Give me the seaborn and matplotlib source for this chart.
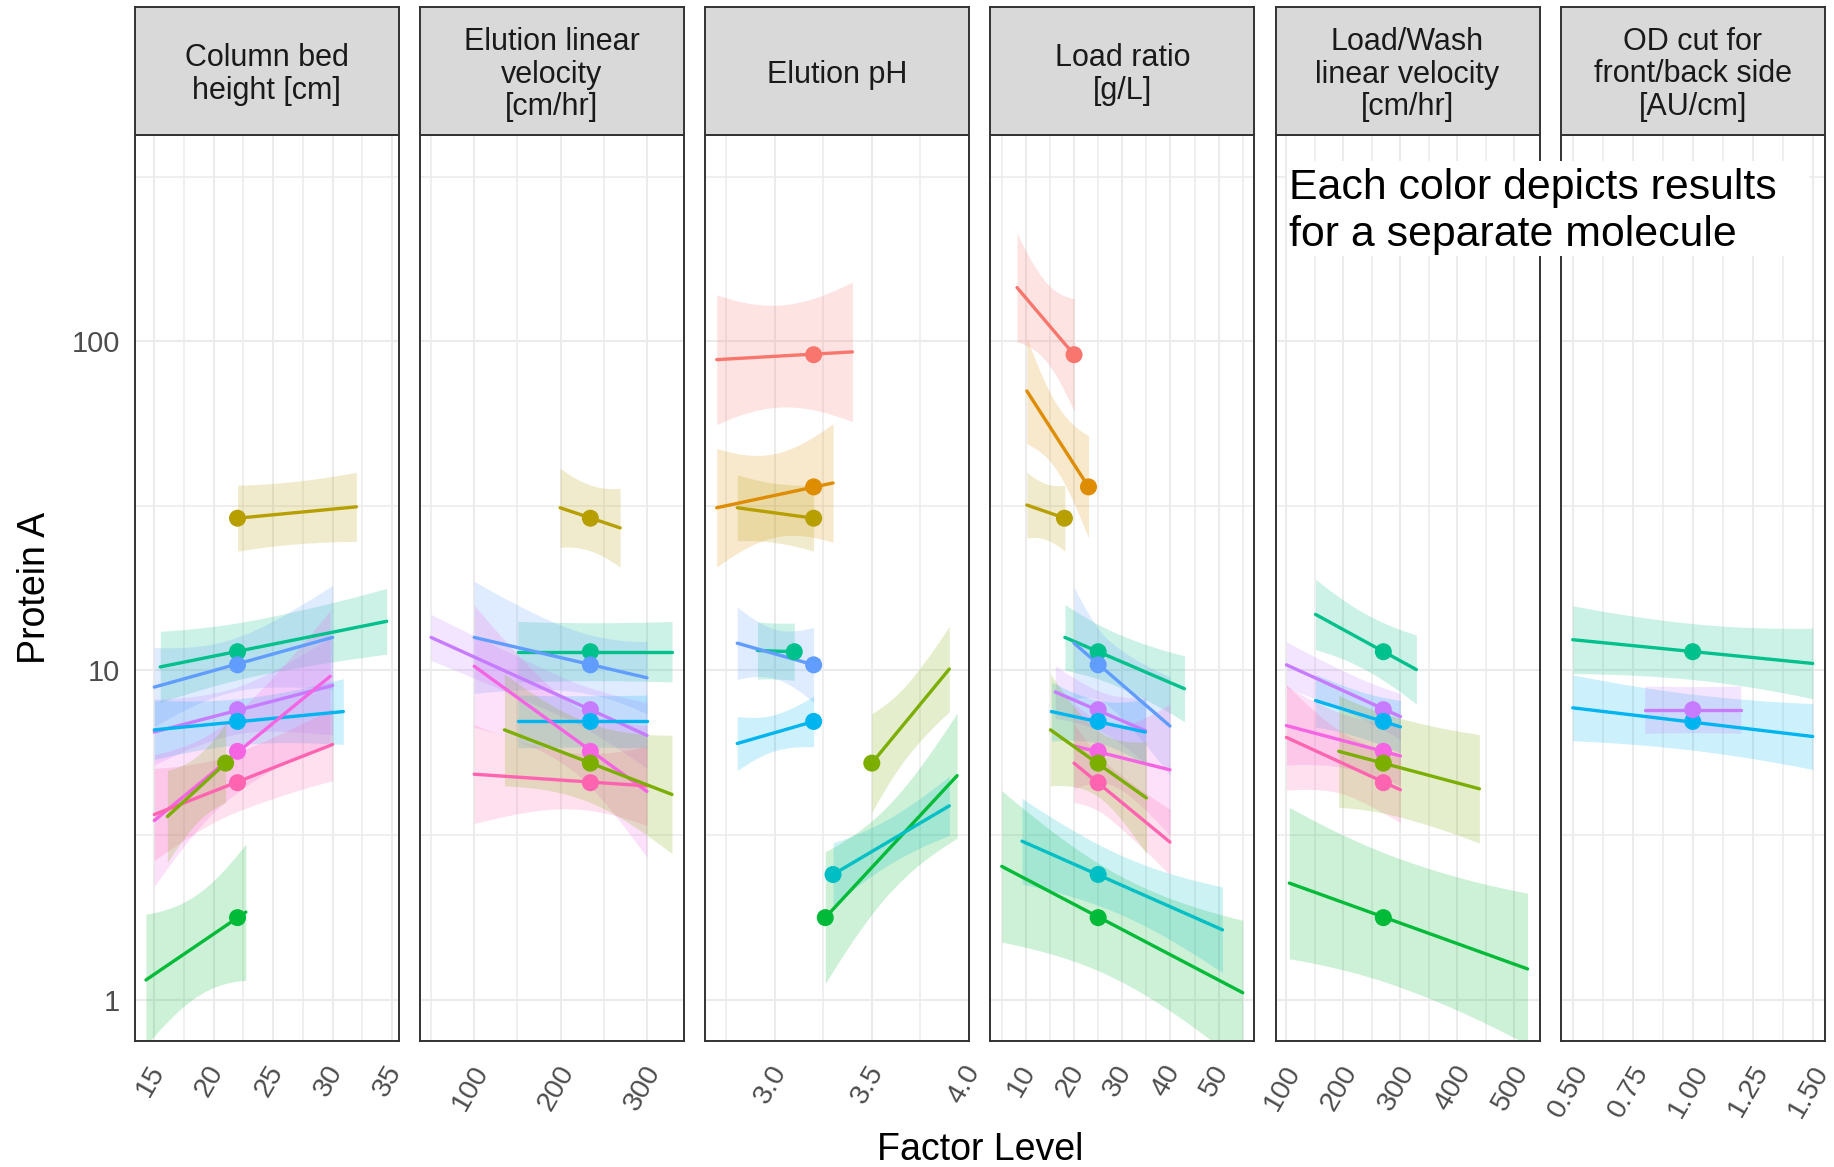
import numpy as np
import pandas as pd
import matplotlib
matplotlib.use("Agg")
import matplotlib.pyplot as plt
import matplotlib.transforms as mtransforms
from matplotlib.patches import Rectangle
from matplotlib.ticker import FixedLocator, FixedFormatter, NullFormatter
import seaborn as sns

sns.set_style("white")
plt.rcParams["font.family"] = ["Liberation Sans", "DejaVu Sans"]

# ---------------------------------------------------------------- data
facet_titles = [
    "Column bed\nheight [cm]",
    "Elution linear\nvelocity\n[cm/hr]",
    "Elution pH",
    "Load ratio\n[g/L]",
    "Load/Wash\nlinear velocity\n[cm/hr]",
    "OD cut for\nfront/back side\n[AU/cm]",
]

molecules = ["mol%02d" % i for i in range(1, 13)]
molecule_colors = ["#F8766D", "#DE8C00", "#B79F00", "#7CAE00", "#00BA38", "#00C08B",
                   "#00BFC4", "#00B4F0", "#619CFF", "#C77CFF", "#F564E3", "#FF64B0"]

# Protein A at the centre-point condition of each molecule
center_protein_a = [91.0, 36.1, 29.0, 5.23, 1.775, 11.4, 2.40, 7.0, 10.4, 7.6, 5.68, 4.56]

# fitted trends: (molecule, x start, x end, y at start, y at end,
#                 x of narrowest band, band half-width start / narrowest / end in log10 units)
bed_height_fits = [
    (3, 22.0, 32.0, 29.0, 31.4, 26.0, 0.100, 0.095, 0.105),
    (6, 15.5, 34.55, 10.25, 14.1, 24.0, 0.108, 0.085, 0.100),
    (9, 15.0, 30.0, 8.9, 12.6, 21.0, 0.120, 0.080, 0.158),
    (10, 15.0, 30.0, 6.5, 9.0, 21.0, 0.100, 0.070, 0.150),
    (8, 15.0, 30.9, 6.6, 7.5, 22.0, 0.090, 0.070, 0.100),
    (11, 15.0, 29.8, 3.5, 9.6, 21.0, 0.200, 0.120, 0.200),
    (12, 15.0, 30.0, 3.65, 5.96, 22.0, 0.140, 0.090, 0.110),
    (4, 16.1, 21.0, 3.6, 5.23, 19.0, 0.140, 0.100, 0.120),
    (5, 14.3, 22.7, 1.148, 1.845, 18.5, 0.200, 0.155, 0.207),
]
elution_velocity_fits = [
    (3, 199.5, 269.0, 31.2, 27.1, 234.5, 0.120, 0.100, 0.120),
    (6, 150.5, 329.0, 11.4, 11.4, 240.0, 0.092, 0.088, 0.092),
    (9, 100.0, 300.0, 12.6, 9.5, 240.0, 0.170, 0.090, 0.110),
    (10, 50.0, 300.0, 12.6, 6.35, 200.0, 0.070, 0.060, 0.100),
    (8, 150.5, 300.0, 7.0, 7.0, 225.0, 0.080, 0.078, 0.080),
    (11, 100.0, 300.0, 10.3, 4.29, 210.0, 0.185, 0.100, 0.200),
    (12, 100.0, 300.0, 4.84, 4.46, 220.0, 0.150, 0.085, 0.120),
    (4, 135.0, 329.0, 6.6, 4.2, 230.0, 0.170, 0.120, 0.180),
]
elution_ph_fits = [
    (1, 2.70, 3.40, 87.9, 92.8, 3.02, 0.197, 0.155, 0.212),
    (2, 2.70, 3.30, 31.2, 37.1, 3.00, 0.180, 0.127, 0.180),
    (3, 2.806, 3.20, 31.2, 29.0, 3.00, 0.100, 0.090, 0.100),
    (6, 2.91, 3.10, 11.5, 11.4, 3.00, 0.087, 0.085, 0.087),
    (9, 2.806, 3.20, 12.1, 10.4, 3.00, 0.110, 0.075, 0.114),
    (8, 2.806, 3.20, 6.0, 7.0, 3.00, 0.082, 0.055, 0.077),
    (4, 3.50, 3.90, 5.23, 10.1, 3.70, 0.150, 0.110, 0.130),
    (5, 3.26, 3.94, 1.775, 4.79, 3.60, 0.200, 0.135, 0.190),
    (7, 3.30, 3.90, 2.40, 3.88, 3.60, 0.096, 0.070, 0.090),
]
load_ratio_fits = [
    (1, 8.17, 20.0, 145.5, 91.0, 14.0, 0.165, 0.120, 0.170),
    (2, 10.2, 23.0, 70.6, 36.1, 16.5, 0.160, 0.100, 0.155),
    (3, 10.2, 18.1, 31.8, 29.0, 14.0, 0.100, 0.085, 0.100),
    (6, 18.1, 42.9, 12.6, 8.8, 29.0, 0.100, 0.080, 0.100),
    (9, 20.0, 39.9, 12.1, 6.78, 27.0, 0.170, 0.100, 0.150),
    (10, 16.1, 34.8, 8.6, 6.56, 25.0, 0.080, 0.060, 0.100),
    (8, 15.3, 34.8, 7.5, 6.5, 25.0, 0.090, 0.065, 0.100),
    (11, 20.0, 39.9, 5.9, 4.99, 27.0, 0.130, 0.090, 0.200),
    (12, 20.0, 39.9, 5.23, 3.01, 27.0, 0.120, 0.080, 0.100),
    (4, 15.1, 35.0, 6.6, 4.1, 25.0, 0.170, 0.100, 0.170),
    (5, 5.0, 55.0, 2.54, 1.05, 30.0, 0.230, 0.160, 0.220),
    (7, 9.2, 50.8, 3.03, 1.63, 30.0, 0.130, 0.090, 0.130),
]
load_wash_fits = [
    (6, 151.0, 328.0, 14.8, 10.06, 240.0, 0.107, 0.085, 0.105),
    (10, 100.0, 300.0, 10.4, 7.24, 220.0, 0.070, 0.060, 0.070),
    (8, 151.0, 300.0, 8.1, 6.74, 230.0, 0.080, 0.070, 0.080),
    (11, 100.0, 300.0, 6.8, 5.5, 220.0, 0.120, 0.080, 0.090),
    (12, 100.0, 300.0, 6.26, 4.34, 220.0, 0.160, 0.090, 0.100),
    (4, 191.7, 438.5, 5.68, 4.37, 300.0, 0.170, 0.150, 0.165),
    (5, 105.0, 523.0, 2.26, 1.24, 300.0, 0.230, 0.195, 0.230),
]
od_cut_fits = [
    (6, 0.50, 1.50, 12.4, 10.5, 1.0, 0.103, 0.085, 0.107),
    (8, 0.50, 1.50, 7.7, 6.3, 1.0, 0.100, 0.085, 0.100),
    (10, 0.80, 1.20, 7.6, 7.6, 1.0, 0.072, 0.070, 0.072),
]

# centre-point runs: (molecule, factor level)
bed_height_points = [(3, 22), (6, 22), (9, 22), (10, 22), (8, 22), (11, 22), (12, 22), (4, 21), (5, 22)]
elution_velocity_points = [(3, 234.5), (6, 234.5), (9, 234.5), (10, 234.5), (8, 234.5),
                           (11, 234.5), (12, 234.5), (4, 234.5)]
elution_ph_points = [(1, 3.2), (2, 3.2), (3, 3.2), (6, 3.1), (9, 3.2), (8, 3.2), (4, 3.5), (5, 3.26), (7, 3.3)]
load_ratio_points = [(1, 20), (2, 23), (3, 18), (6, 25), (9, 25), (10, 25), (8, 25), (11, 25),
                     (12, 25), (4, 25), (5, 25), (7, 25)]
load_wash_points = [(6, 270), (10, 270), (8, 270), (11, 270), (12, 270), (4, 270), (5, 270)]
od_cut_points = [(6, 1.0), (8, 1.0), (10, 1.0)]

x_ticks = [[15, 20, 25, 30, 35], [100, 200, 300], [3.0, 3.5, 4.0], [10, 20, 30, 40, 50],
           [100, 200, 300, 400, 500], [0.50, 0.75, 1.00, 1.25, 1.50]]
x_tick_labels = [["15", "20", "25", "30", "35"], ["100", "200", "300"], ["3.0", "3.5", "4.0"],
                 ["10", "20", "30", "40", "50"], ["100", "200", "300", "400", "500"],
                 ["0.50", "0.75", "1.00", "1.25", "1.50"]]
x_minor = [[17.5, 22.5, 27.5, 32.5], [50, 150, 250], [2.75, 3.25, 3.75], [5, 15, 25, 35, 45, 55],
           [150, 250, 350, 450], [0.625, 0.875, 1.125, 1.375]]
x_limits = [(13.35, 35.56), (37.1, 342.8), (2.64, 4.002), (2.62, 57.4), (80.8, 544.0), (0.45, 1.55)]
y_limits = (0.749, 423.0)
y_ticks = [1, 10, 100]
y_minor = [10 ** 0.5, 10 ** 1.5, 10 ** 2.5]

fits_by_facet = [bed_height_fits, elution_velocity_fits, elution_ph_fits,
                 load_ratio_fits, load_wash_fits, od_cut_fits]
points_by_facet = [bed_height_points, elution_velocity_points, elution_ph_points,
                   load_ratio_points, load_wash_points, od_cut_points]

palette = dict(zip(molecules, molecule_colors))

line_rows, point_rows = [], []
for f, fits in enumerate(fits_by_facet):
    for k, (m, x0, x1, y0, y1, *_rest) in enumerate(fits):
        line_rows.append({"facet": f, "fit": k, "molecule": molecules[m - 1], "factor": x0, "protein_a": y0})
        line_rows.append({"facet": f, "fit": k, "molecule": molecules[m - 1], "factor": x1, "protein_a": y1})
for f, pts in enumerate(points_by_facet):
    for m, x in pts:
        point_rows.append({"facet": f, "molecule": molecules[m - 1], "factor": x,
                           "protein_a": center_protein_a[m - 1]})
lines_df = pd.DataFrame(line_rows)
points_df = pd.DataFrame(point_rows)


def confidence_band(x0, x1, y0, y1, xm, w0, wm, w1, n=80):
    """Band around a straight (log-scale) trend, narrowest at xm."""
    xs = np.linspace(x0, x1, n)
    ly = np.log10(y0) + (np.log10(y1) - np.log10(y0)) * (xs - x0) / (x1 - x0)
    left = xs < xm
    t = np.where(left, (xs - xm) / (x0 - xm), (xs - xm) / (x1 - xm))
    w_end = np.where(left, w0, w1)
    hw = np.sqrt(wm ** 2 + (w_end ** 2 - wm ** 2) * t ** 2)
    return xs, 10 ** (ly - hw), 10 ** (ly + hw)


# ---------------------------------------------------------------- layout
W, H = 1834, 1167
fig = plt.figure(figsize=(W / 100, H / 100), dpi=100)
panel_left = [134.7 + i * 285.2 for i in range(6)]
panel_w = 264.0
plot_top, plot_bot, strip_top = 135.0, 1041.0, 7.0
border = "#333333"
grid_c = "#EBEBEB"
label_shift = mtransforms.ScaledTranslation(-4 / 100, 0, fig.dpi_scale_trans)

for f in range(6):
    l = panel_left[f] / W
    ax = fig.add_axes([l, 1 - plot_bot / H, panel_w / W, (plot_bot - plot_top) / H])
    sax = fig.add_axes([l, 1 - plot_top / H, panel_w / W, (plot_top - strip_top) / H])

    ax.set_yscale("log")
    ax.set_axisbelow(True)

    for (m, x0, x1, y0, y1, xm, w0, wm, w1) in fits_by_facet[f]:
        xs, lo, hi = confidence_band(x0, x1, y0, y1, xm, w0, wm, w1)
        ax.fill_between(xs, lo, hi, color=molecule_colors[m - 1], alpha=0.2, lw=0, zorder=1)

    sns.lineplot(data=lines_df[lines_df.facet == f], x="factor", y="protein_a", hue="molecule",
                 units="fit", estimator=None, sort=False, palette=palette, legend=False,
                 lw=2.4, ax=ax, zorder=3)
    sns.scatterplot(data=points_df[points_df.facet == f], x="factor", y="protein_a", hue="molecule",
                    palette=palette, s=150, linewidth=0, legend=False, ax=ax, zorder=4)

    ax.set_xlim(*x_limits[f])
    ax.set_ylim(*y_limits)
    ax.set_xlabel("")
    ax.set_ylabel("")

    ax.xaxis.set_major_locator(FixedLocator(x_ticks[f]))
    ax.xaxis.set_major_formatter(FixedFormatter(x_tick_labels[f]))
    ax.xaxis.set_minor_locator(FixedLocator(x_minor[f]))
    ax.xaxis.set_minor_formatter(NullFormatter())
    ax.yaxis.set_major_locator(FixedLocator(y_ticks))
    ax.yaxis.set_major_formatter(FixedFormatter([str(v) for v in y_ticks]))
    ax.yaxis.set_minor_locator(FixedLocator(y_minor))
    ax.yaxis.set_minor_formatter(NullFormatter())

    ax.grid(which="major", color=grid_c, lw=1.5)
    ax.grid(which="minor", color=grid_c, lw=1.1)
    ax.tick_params(which="minor", length=0)
    ax.tick_params(axis="x", which="major", length=7, width=1.3, color=border, pad=7,
                   labelsize=20.5, labelcolor="#4D4D4D", labelrotation=60)
    if f == 0:
        ax.tick_params(axis="y", which="major", length=7, width=1.3, color=border, pad=3.5,
                       labelsize=21, labelcolor="#4D4D4D")
    else:
        ax.tick_params(axis="y", which="both", left=False, labelleft=False)
    for tick in ax.xaxis.get_major_ticks():
        tick.label1.set_transform(tick.label1.get_transform() + label_shift)
    for s in ax.spines.values():
        s.set_color(border)
        s.set_linewidth(1.4)
        s.set_visible(True)

    # facet strip
    sax.set_facecolor("#D9D9D9")
    sax.set_xticks([])
    sax.set_yticks([])
    for s in sax.spines.values():
        s.set_color(border)
        s.set_linewidth(1.4)
    lines = facet_titles[f].split("\n")
    n = len(lines)
    cy = (strip_top + plot_top) / 2
    for j, txt in enumerate(lines):
        y_px = cy + (j - (n - 1) / 2) * 32.7
        fig.text(l + panel_w / W / 2, 1 - y_px / H, txt, ha="center", va="center_baseline",
                 fontsize=22, color="#1A1A1A")

# axis titles
fig.text(35 / W, 1 - ((plot_top + plot_bot) / 2) / H, "Protein A", rotation=90,
         ha="center", va="center", fontsize=27, color="black")
fig.text((panel_left[0] + panel_left[-1] + panel_w) / 2 / W, 1 - 1150 / H, "Factor Level",
         ha="center", va="center", fontsize=27, color="black")

# note box
fig.add_artist(Rectangle((1287 / W, 1 - 256 / H), (1809 - 1287) / W, (256 - 161) / H,
                         transform=fig.transFigure, facecolor="white", edgecolor="none", zorder=5))
fig.text(1289 / W, 1 - 199.5 / H, "Each color depicts results", ha="left", va="baseline",
         fontsize=30.8, color="black", zorder=6)
fig.text(1289 / W, 1 - 245.6 / H, "for a separate molecule", ha="left", va="baseline",
         fontsize=30.8, color="black", zorder=6)

fig.savefig("out.png", dpi=100)
